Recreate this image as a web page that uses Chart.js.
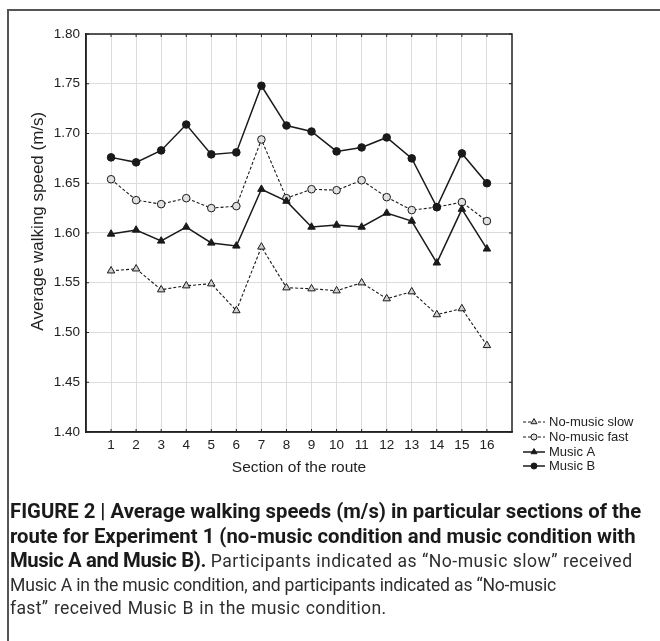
<!DOCTYPE html>
<html>
<head>
<meta charset="utf-8">
<script src="https://cdn.jsdelivr.net/npm/chart.js@4.4.1/dist/chart.umd.min.js"></script>
<style>
  html, body { margin: 0; padding: 0; background: #fff; }
  #wrap { position: relative; width: 660px; height: 641px; overflow: hidden; }
  #frame { position: absolute; left: 7px; top: 9px; width: 700px; height: 700px;
           border-top: 2px solid #555; border-left: 2px solid #555; }
  #c { position: absolute; left: 0; top: 0; }
  #caption { position: absolute; left: 10px; top: 500px; width: 660px;
             font-family: "Roboto", "Liberation Sans", sans-serif;
             line-height: 23.5px; color: #222; white-space: nowrap; }
  #caption b { font-weight: bold; font-size: 20.3px; line-height: 23.5px; color: #1a1a1a; }
  #caption span { font-weight: normal; font-size: 17.6px; line-height: 23.5px; color: #2e2e2e; }
  #caption .b3 { letter-spacing: -0.4px; }
  #caption .r3 { letter-spacing: 0.5px; }
  #caption .r4 { letter-spacing: -0.2px; }
  #caption .r5 { letter-spacing: 0.3px; word-spacing: 1px; }
</style>
</head>
<body>
<div id="wrap">
  <div id="frame"></div>
  <canvas id="c" width="660" height="641"></canvas>
  <div id="caption"><b>FIGURE 2 | Average walking speeds (m/s) in particular sections of the</b><br><b>route for Experiment 1 (no-music condition and music condition with</b><br><b class="b3">Music A and Music B).</b><span class="r3"> Participants indicated as “No-music slow” received</span><br><span class="r4">Music A in the music condition, and participants indicated as “No-music</span><br><span class="r5">fast” received Music B in the music condition.</span></div>
</div>
<script>
const sections = [1,2,3,4,5,6,7,8,9,10,11,12,13,14,15,16];
const noMusicSlow = [1.562,1.564,1.543,1.547,1.549,1.522,1.586,1.545,1.544,1.542,1.550,1.534,1.541,1.518,1.524,1.487];
const noMusicFast = [1.654,1.633,1.629,1.635,1.625,1.627,1.694,1.635,1.644,1.643,1.653,1.636,1.623,1.626,1.631,1.612];
const musicA      = [1.599,1.603,1.592,1.606,1.590,1.587,1.644,1.632,1.606,1.608,1.606,1.620,1.612,1.570,1.624,1.584];
const musicB      = [1.676,1.671,1.683,1.709,1.679,1.681,1.748,1.708,1.702,1.682,1.686,1.696,1.675,1.626,1.680,1.650];
const yTicks = [1.40,1.45,1.50,1.55,1.60,1.65,1.70,1.75,1.80];
const seriesNames = ["No-music slow","No-music fast","Music A","Music B"];

const toXY = arr => arr.map((v, i) => ({x: sections[i], y: v}));
const INK = '#1a1a1a';
const FONT = '"Liberation Sans", Arial, sans-serif';

const datasets = [
  { label: seriesNames[0], data: toXY(noMusicSlow), order: 3,
    borderColor: INK, borderWidth: 1.1, borderDash: [3,2],
    pointStyle: 'triangle', pointRadius: 4.3, pointBackgroundColor: '#cfcfcf', pointBorderColor: INK, pointBorderWidth: 1 },
  { label: seriesNames[1], data: toXY(noMusicFast), order: 2,
    borderColor: INK, borderWidth: 1.1, borderDash: [3,2],
    pointStyle: 'circle', pointRadius: 3.8, pointBackgroundColor: '#e0e0e0', pointBorderColor: INK, pointBorderWidth: 1 },
  { label: seriesNames[2], data: toXY(musicA), order: 1,
    borderColor: INK, borderWidth: 1.5,
    pointStyle: 'triangle', pointRadius: 4.3, pointBackgroundColor: INK, pointBorderColor: INK, pointBorderWidth: 1 },
  { label: seriesNames[3], data: toXY(musicB), order: 0,
    borderColor: INK, borderWidth: 1.5,
    pointStyle: 'circle', pointRadius: 3.8, pointBackgroundColor: INK, pointBorderColor: INK, pointBorderWidth: 1 }
];

const frameBox = {
  id: 'frameBox',
  afterDatasetsDraw(chart) {
    const {ctx, chartArea: a} = chart;
    ctx.save();
    ctx.strokeStyle = '#222';
    ctx.lineWidth = 1.5;
    ctx.strokeRect(a.left, a.top, a.right - a.left, a.bottom - a.top);
    ctx.lineWidth = 1;
    const xs = chart.scales.x, ys = chart.scales.y;
    sections.forEach(s => {
      const px = xs.getPixelForValue(s);
      ctx.beginPath(); ctx.moveTo(px, a.top); ctx.lineTo(px, a.top + 3); ctx.stroke();
      ctx.beginPath(); ctx.moveTo(px, a.bottom); ctx.lineTo(px, a.bottom - 3); ctx.stroke();
    });
    yTicks.forEach(v => {
      const py = ys.getPixelForValue(v);
      ctx.beginPath(); ctx.moveTo(a.right, py); ctx.lineTo(a.right - 3, py); ctx.stroke();
      ctx.beginPath(); ctx.moveTo(a.left, py); ctx.lineTo(a.left + 3, py); ctx.stroke();
    });
    ctx.restore();
  }
};

const customLegend = {
  id: 'customLegend',
  afterDraw(chart) {
    const {ctx} = chart;
    const x0 = 523, x1 = 545, mx = 534, tx = 549;
    const rows = [422, 437, 452, 466];
    ctx.save();
    chart.data.datasets.forEach((ds, i) => {
      const y = rows[i];
      ctx.strokeStyle = ds.borderColor;
      ctx.lineWidth = ds.borderWidth;
      ctx.setLineDash(ds.borderDash || []);
      ctx.beginPath(); ctx.moveTo(x0, y); ctx.lineTo(x1, y); ctx.stroke();
      ctx.setLineDash([]);
      ctx.fillStyle = ds.pointBackgroundColor;
      ctx.strokeStyle = ds.pointBorderColor;
      ctx.lineWidth = 1;
      Chart.helpers.drawPoint(ctx, {pointStyle: ds.pointStyle, radius: ds.pointRadius * 0.8, borderWidth: 1, rotation: 0}, mx, y);
      ctx.fillStyle = '#222';
      ctx.font = '13px ' + FONT;
      ctx.textBaseline = 'middle';
      ctx.textAlign = 'left';
      ctx.fillText(ds.label, tx, y);
    });
    ctx.restore();
  }
};

new Chart(document.getElementById('c'), {
  type: 'line',
  data: { datasets },
  options: {
    responsive: false,
    animation: false,
    layout: { padding: { left: 0, top: 34, right: 148, bottom: 159 } },
    plugins: { legend: { display: false }, tooltip: { enabled: false } },
    scales: {
      x: {
        type: 'linear', min: 0, max: 17,
        afterFit(s) { s.height = 50; },
        afterBuildTicks(s) { s.ticks = [0, ...sections, 17].map(v => ({value: v})); },
        ticks: {
          padding: 5, color: '#222', maxRotation: 0, autoSkip: false,
          font: { family: FONT, size: 13.5 },
          callback: v => (v >= 1 && v <= 16) ? String(v) : ''
        },
        grid: { drawTicks: false, color: c => (c.tick && (c.tick.value === 0 || c.tick.value === 17)) ? 'rgba(0,0,0,0)' : '#dcdcdc', lineWidth: 1 },
        border: { display: true, color: '#222', width: 1.5 },
        title: { display: true, text: 'Section of the route', color: '#222',
                 font: { family: FONT, size: 15.5 },
                 padding: { top: 0, bottom: 4.7 } }
      },
      y: {
        type: 'linear', min: 1.40, max: 1.80,
        afterFit(s) { s.width = 86; },
        afterBuildTicks(s) { s.ticks = yTicks.map(v => ({value: v})); },
        ticks: {
          padding: 6, color: '#222',
          font: { family: FONT, size: 13.5 },
          callback: v => Number(v).toFixed(2)
        },
        grid: { drawTicks: false, color: '#dcdcdc', lineWidth: 1 },
        border: { display: true, color: '#222', width: 1.5 },
        title: { display: true, text: '     Average walking speed (m/s)', color: '#222',
                 font: { family: FONT, size: 17 },
                 padding: { top: 27.8, bottom: 0 } }
      }
    }
  },
  plugins: [frameBox, customLegend]
});
</script>
</body>
</html>
